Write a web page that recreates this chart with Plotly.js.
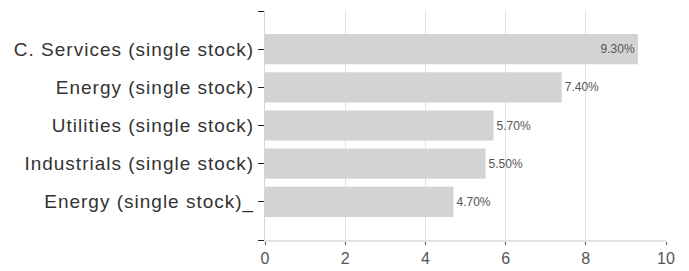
<!DOCTYPE html>
<html><head><meta charset="utf-8">
<script src="https://cdn.plot.ly/plotly-3.0.1.min.js"></script>
<style>html,body{margin:0;padding:0;background:#fff}#chart{width:689px;height:271px}
.yaxislayer-above .ytick text{letter-spacing:1.0px}
</style>
</head><body><div id="chart"></div>
<script>
const categories = ["C. Services (single stock)", "Energy (single stock)", "Utilities (single stock)", "Industrials (single stock)", "Energy (single stock)_"];
const values = [9.3, 7.4, 5.7, 5.5, 4.7];
const xTicks = [0, 2, 4, 6, 8, 10];

const trace = {
  type: 'bar', orientation: 'h',
  y: categories, x: values,
  marker: {color: '#d3d3d3'},
  width: 0.79,
  texttemplate: '%{x:.2f}%',
  textposition: values.map((v, i) => i === 0 ? 'inside' : 'outside'),
  insidetextanchor: 'end',
  textfont: {family: 'Liberation Sans, Arial, sans-serif', size: 12, color: '#555'},
  cliponaxis: false,
  hoverinfo: 'none'
};
const edgeTrace = {type: 'scatter', mode: 'markers', x: [], y: [], yaxis: 'y2', hoverinfo: 'none', showlegend: false};
const layout = {
  width: 689, height: 271,
  margin: {l: 265, r: 23, t: 11, b: 31},
  paper_bgcolor: '#fff', plot_bgcolor: '#fff',
  showlegend: false,
  font: {family: 'Liberation Sans, Arial, sans-serif'},
  xaxis: {
    range: [0, 10], tickvals: xTicks, ticktext: xTicks.map(String),
    showgrid: true, gridcolor: '#e2e2e2', gridwidth: 1,
    zeroline: false, showline: true, linecolor: '#e2e2e2', linewidth: 2,
    ticks: 'outside', ticklen: 3, tickcolor: '#555', tickwidth: 1,
    tickfont: {size: 16, color: '#555'}
  },
  yaxis: {
    type: 'category', range: [5, -1],
    showgrid: false, zeroline: false,
    showline: true, linecolor: '#d6d6d6', linewidth: 1,
    ticks: 'outside', ticklen: 6, tickcolor: '#222', tickwidth: 1,
    tickfont: {size: 19, color: '#333'}
  },
  yaxis2: {
    overlaying: 'y', side: 'left', range: [5, -1],
    tickvals: [-1, 5], ticktext: ['', ''],
    ticks: 'outside', ticklen: 6, tickcolor: '#222', tickwidth: 1,
    showgrid: false, zeroline: false, showline: false
  },
  bargap: 0.2
};
Plotly.newPlot('chart', [trace, edgeTrace], layout, {staticPlot: true, displayModeBar: false});
</script></body></html>
